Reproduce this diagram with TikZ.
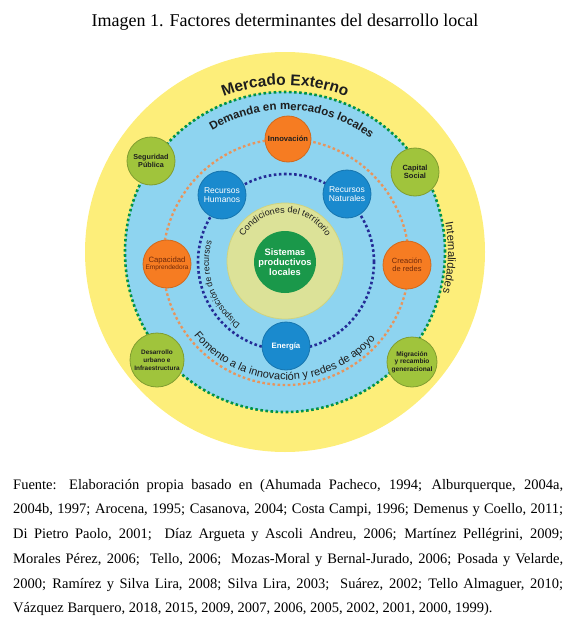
\documentclass[tikz,border=0pt]{standalone}
\usepackage{fontspec}
\setmainfont{Liberation Serif}
\setsansfont{Liberation Sans}
\usetikzlibrary{decorations.text}

\definecolor{amarillo}{RGB}{253,238,122}
\definecolor{celeste}{RGB}{142,212,240}
\definecolor{puntoverde}{RGB}{0,146,72}
\definecolor{puntonaranja}{RGB}{232,148,92}
\definecolor{puntoazul}{RGB}{36,44,150}
\definecolor{naranja}{RGB}{246,124,34}
\definecolor{azul}{RGB}{26,138,206}
\definecolor{oliva}{RGB}{160,196,60}
\definecolor{palido}{RGB}{220,226,152}
\definecolor{sistema}{RGB}{26,152,74}
\definecolor{texto}{RGB}{30,30,30}
\definecolor{marron}{RGB}{110,40,10}

\begin{document}
\begin{tikzpicture}[x=1pt,y=1pt,
  factor/.style={circle,draw,line width=0.8pt,inner sep=0pt,align=center,minimum size=48pt},
  verde/.style={factor,fill=oliva,draw=oliva!80!black,text=texto,font=\sffamily\bfseries},
  fuego/.style={factor,fill=naranja,draw=naranja!85!black,text=texto},
  agua/.style={factor,fill=azul,draw=azul!85!black,text=white,font=\sffamily},
  anillo/.style={line width=2.6pt,dash pattern=on 2.6pt off 2.5pt}]
  \useasboundingbox (0,0) rectangle (576,-634);
  \coordinate (ext) at (285,-252);
  \coordinate (int) at (286,-262);

  % circulos de fondo
  \fill[amarillo] (ext) circle[radius=200];
  \fill[celeste] (ext) circle[radius=160];
  \draw[anillo,puntoverde] (ext) circle[radius=160];
  \draw[anillo,puntonaranja,line width=2.3pt] (int) circle[radius=123];
  \draw[anillo,puntoazul] (int) circle[radius=88];
  \draw[fill=palido,draw=palido!85!olive,line width=0.8pt] (285,-261) circle[radius=58];
  \node[circle,fill=sistema,minimum size=62pt,inner sep=0pt,align=center,text=white,
    font=\sffamily\bfseries\fontsize{9.3}{10}\selectfont] (sistemas) at (285,-262)
    {Sistemas\\productivos\\locales};

  % factores
  \node[fuego,font=\sffamily\bfseries\fontsize{7.6}{8}\selectfont,minimum size=46pt] (innov) at (288,-139) {Innovación};
  \node[fuego,text=marron,font=\sffamily\fontsize{7.7}{7.3}\selectfont] (capac) at (167,-264)
    {Capacidad\\{\fontsize{6.5}{7.3}\selectfont Emprendedora}};
  \node[fuego,text=marron,font=\sffamily\fontsize{7.5}{8.4}\selectfont] (creac) at (407,-265) {Creación\\de redes};
  \node[agua,font=\sffamily\fontsize{8.5}{8.4}\selectfont] (rechum) at (222,-195) {Recursos\\Humanos};
  \node[agua,font=\sffamily\fontsize{8.5}{8.4}\selectfont] (recnat) at (347,-194) {Recursos\\Naturales};
  \node[agua,font=\sffamily\bfseries\fontsize{7.8}{8}\selectfont] (energia) at (286,-346) {Energía};
  \node[verde,font=\sffamily\bfseries\fontsize{7.2}{8.3}\selectfont] (segur) at (151,-161) {Seguridad\\Pública};
  \node[verde,font=\sffamily\bfseries\fontsize{7.5}{8.3}\selectfont] (capsoc) at (415,-172) {Capital\\Social};
  \node[verde,font=\sffamily\bfseries\fontsize{6.4}{7.8}\selectfont,minimum size=54pt] (desurb) at (157,-360)
    {Desarrollo\\urbano e\\Infraestructura};
  \node[verde,font=\sffamily\bfseries\fontsize{6.6}{7.3}\selectfont,minimum size=50pt] (migrac) at (412,-362)
    {Migración\\y recambio\\generacional};

  % textos en arco
  \path[decorate,decoration={text along path,text align=center,
    text={|\sffamily\bfseries\fontsize{15.5}{15.5}\selectfont\color{texto}|Mercado Externo}}]
    (ext) ++(125:167) arc[start angle=125,end angle=55,radius=167];
  \path[decorate,decoration={text along path,text align=center,
    text={|\sffamily\bfseries\fontsize{11.5}{11.5}\selectfont\color{texto}|Demanda en mercados locales}}]
    (ext) ++(132:142) arc[start angle=132,end angle=42,radius=142];
  \path[decorate,decoration={text along path,text align=center,
    text={|\sffamily\fontsize{11.2}{11.2}\selectfont\color{texto}|Internalidades}}]
    (ext) ++(30:163) arc[start angle=30,end angle=-34,radius=163];
  \path[decorate,decoration={text along path,text align=center,
    text={|\sffamily\fontsize{9}{9}\selectfont\color{texto}|Condiciones del territorio}}]
    (285,-261) ++(170:48) arc[start angle=170,end angle=10,radius=48];
  \path[decorate,decoration={text along path,text align=center,
    text={|\sffamily\fontsize{8.8}{8.8}\selectfont\color{texto}|Disposición de recursos}}]
    (int) ++(245:77) arc[start angle=245,end angle=153,radius=77];
  \path[decorate,decoration={text along path,text align=center,
    text={|\sffamily\fontsize{11}{11}\selectfont\color{texto}|Fomento a la innovación y redes de apoyo}}]
    (int) ++(209:118) arc[start angle=209,end angle=329,radius=118];

  % titulo y fuente
  \node[font=\fontsize{18}{18}\selectfont] (titulo) at (285,-22)
    {Imagen 1. Factores determinantes del desarrollo local};
  \node[anchor=north west,text width=550pt,align=justify,inner sep=0pt,
    font=\fontsize{14.5}{24.7}\selectfont] (fuente) at (13,-479)
    {\hyphenpenalty=10000 \exhyphenpenalty=10000 \tolerance=10000
     Fuente: Elaboración propia basado en (Ahumada Pacheco, 1994; Alburquerque, 2004a,\linebreak
     2004b, 1997; Arocena, 1995; Casanova, 2004; Costa Campi, 1996; Demenus y Coello, 2011;\linebreak
     Di Pietro Paolo, 2001;\ \ Díaz Argueta y Ascoli Andreu, 2006; Martínez Pellégrini, 2009;\linebreak
     Morales Pérez, 2006;\ \ Tello, 2006;\ \ Mozas-Moral y Bernal-Jurado, 2006; Posada y Velarde,\linebreak
     2000; Ramírez y Silva Lira, 2008; Silva Lira, 2003;\ \ Suárez, 2002; Tello Almaguer, 2010;\linebreak
     Vázquez Barquero, 2018, 2015, 2009, 2007, 2006, 2005, 2002, 2001, 2000, 1999).};
\end{tikzpicture}
\end{document}
